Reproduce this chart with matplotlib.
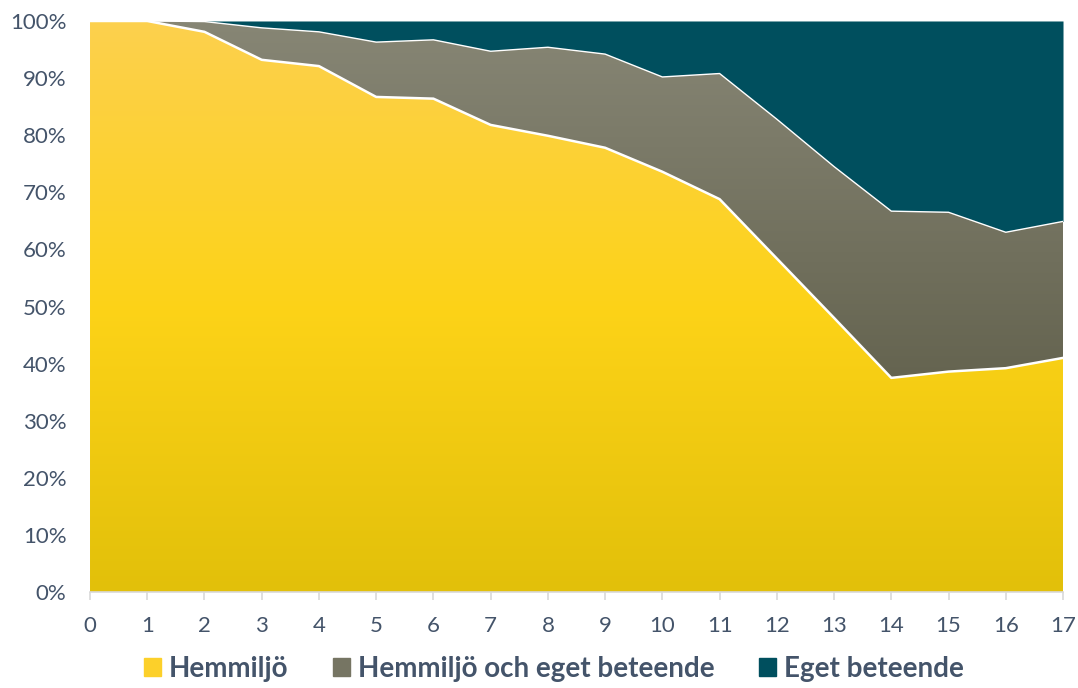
import numpy as np
import matplotlib.pyplot as plt
from matplotlib.colors import LinearSegmentedColormap
from matplotlib.patches import Patch

plt.rcParams['font.family'] = ['Lato', 'DejaVu Sans']

# age in years
ages = list(range(18))

# cumulative share (%) per age
hemmiljo = [100, 100, 98.1, 93.2, 92.1, 86.7, 86.4, 81.8, 79.9, 77.8,
            73.6, 68.8, 58.4, 48.0, 37.5, 38.6, 39.2, 41.0]
hemmiljo_och_eget = [100, 100, 99.9, 98.8, 98.1, 96.3, 96.7, 94.7, 95.4, 94.2,
                     90.2, 90.8, 82.8, 74.5, 66.7, 66.5, 63.0, 64.9]

labels = ['Hemmiljö', 'Hemmiljö och eget beteende', 'Eget beteende']
text_color = '#44546A'

yellow_cmap = LinearSegmentedColormap.from_list(
    'yellow', [(0, '#E2C00A'), (0.5, '#FDD318'), (1, '#FCD04E')])
gray_cmap = LinearSegmentedColormap.from_list(
    'gray', [(0, '#656450'), (1, '#878675')])
teal = '#004F5E'

fig = plt.figure(figsize=(10.78, 6.88), dpi=100)
ax = fig.add_axes([0.0835, 0.1395, 0.9026, 0.83])

x = np.array(ages)
y1 = np.array(hemmiljo)
y2 = np.array(hemmiljo_och_eget)

# top layer, solid colour
ax.fill_between(x, y2, 100, color=teal, lw=0)


def gradient_fill(lower, upper, cmap, ymin, ymax):
    poly = ax.fill_between(x, lower, upper, facecolor='none', lw=0)
    grad = np.linspace(0, 1, 256).reshape(-1, 1)
    im = ax.imshow(grad, cmap=cmap, aspect='auto', origin='lower',
                   extent=[x[0], x[-1], ymin, ymax], zorder=1)
    im.set_clip_path(poly.get_paths()[0], transform=ax.transData)


gradient_fill(y1, y2, gray_cmap, y1.min(), 100)
gradient_fill(0, y1, yellow_cmap, 0, 100)

# white separator lines between layers
ax.plot(x, y1, color='white', lw=1.8, zorder=3)
ax.plot(x, y2, color='white', lw=1.0, zorder=3)

ax.set_xlim(0, 17)
ax.set_ylim(0, 100)
ax.set_xticks(ages)
ax.set_yticks(range(0, 101, 10))
ax.set_yticklabels([f'{v}%' for v in range(0, 101, 10)])

for s in ['top', 'right', 'left']:
    ax.spines[s].set_visible(False)
ax.spines['bottom'].set_color('#D9D9D9')
ax.spines['bottom'].set_linewidth(1.2)
ax.tick_params(axis='x', length=6, width=1.2, color='#D9D9D9',
               labelsize=16, labelcolor=text_color, pad=11)
ax.tick_params(axis='y', length=0, labelsize=16, labelcolor=text_color, pad=17)

handles = [Patch(color='#FCD02A'), Patch(color='#767563'), Patch(color=teal)]
leg = fig.legend(handles, labels, loc='lower center', bbox_to_anchor=(0.514, -0.027),
                 ncol=3, frameon=False, handlelength=0.6, handleheight=0.6,
                 handletextpad=0.3, columnspacing=1.6,
                 prop={'size': 20, 'weight': 'bold'})
for t in leg.get_texts():
    t.set_color(text_color)

fig.savefig('out.png', dpi=100)
